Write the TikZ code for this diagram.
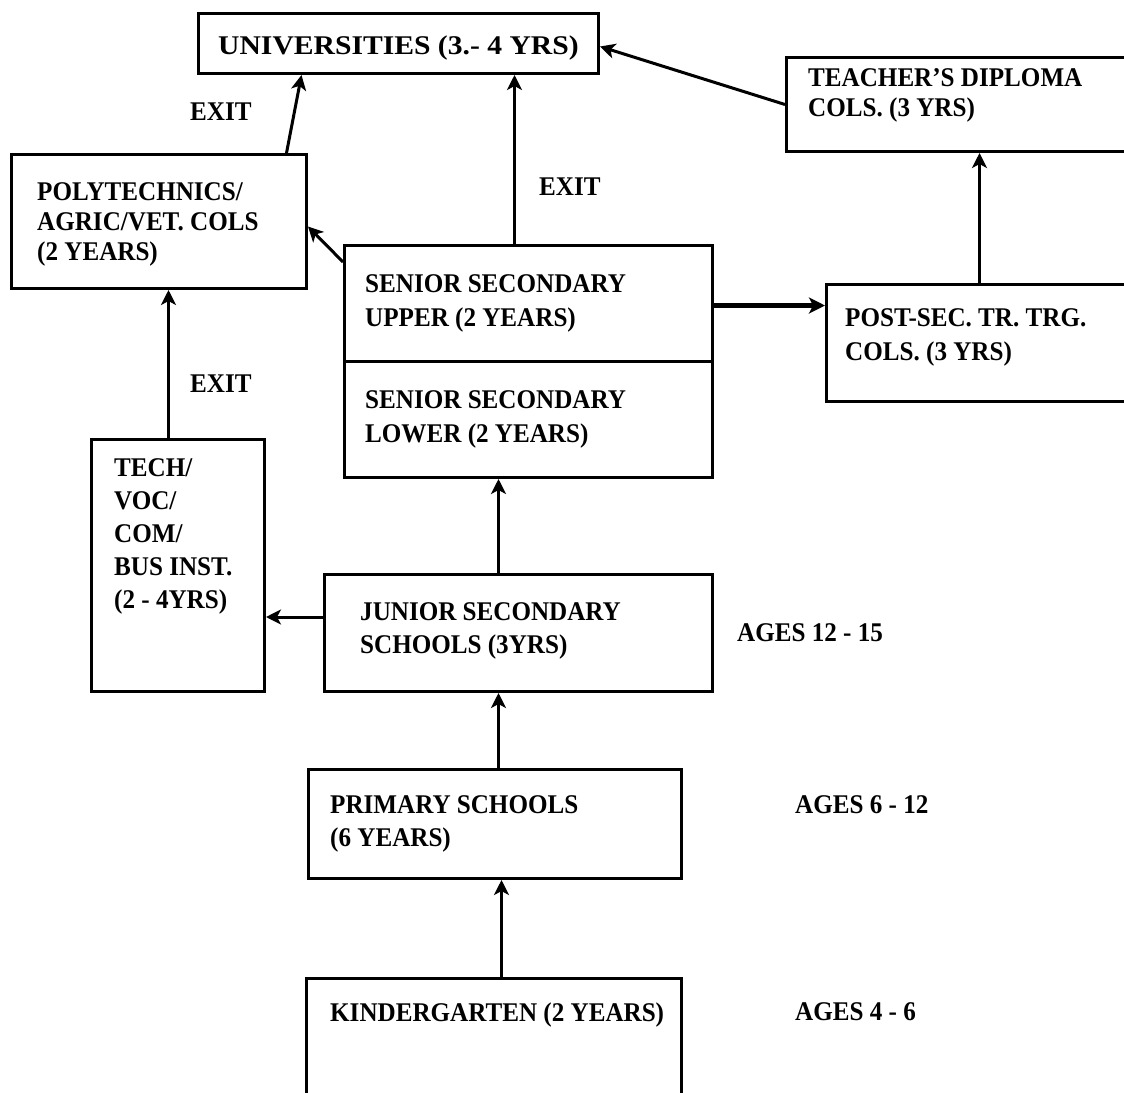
\documentclass[tikz,border=0pt]{standalone}
\usepackage{fontspec}
\usepackage{graphicx}
\setmainfont[FakeStretch=0.93]{Liberation Serif}
\usetikzlibrary{calc,arrows.meta}
\begin{document}
\begin{tikzpicture}[x=1pt,y=-1pt,
  box/.style={draw,line width=3pt,inner sep=0pt,anchor=north west},
  lbl/.style={anchor=north west,inner sep=0pt,font=\fontsize{27}{33}\selectfont\bfseries,align=left},
  sp30/.style={font=\fontsize{27}{30}\selectfont\bfseries},
  sp34/.style={font=\fontsize{27}{34}\selectfont\bfseries},
  arr/.style={line width=3pt,-{Stealth[length=15pt,width=15pt,inset=4pt]}},
  thickarr/.style={line width=5pt,-{Stealth[length=16pt,width=16pt,inset=4pt]}},
]
\clip (0,0) rectangle (1124,1092);
\fill[white] (0,0) rectangle (1124,1092);

% boxes
\node[box,minimum width=400,minimum height=60]  (uni)  at (197,12)  {};
\node[box,minimum width=350,minimum height=94]  (tea)  at (785,56)  {};
\node[box,minimum width=295,minimum height=134] (pol)  at (10,153)  {};
\node[box,minimum width=368,minimum height=116] (seu)  at (343,244) {};
\node[box,minimum width=368,minimum height=116] (sel)  at (343,360) {};
\node[box,minimum width=310,minimum height=117] (pos)  at (825,283) {};
\node[box,minimum width=173,minimum height=252] (tec)  at (90,438)  {};
\node[box,minimum width=388,minimum height=117] (jun)  at (323,573) {};
\node[box,minimum width=373,minimum height=109] (pri)  at (307,768) {};
\node[box,minimum width=375,minimum height=130] (kin)  at (305,977) {};

% texts in boxes
\node[lbl] (tuni) at (218,35.5)  {\scalebox{1.18}[1]{UNIVERSITIES (3.- 4 YRS)}};
\node[lbl,sp30] (ttea) at (808,68.5)  {TEACHER'S DIPLOMA\\COLS. (3 YRS)};
\node[lbl,sp30] (tpol) at (37,182.5)  {POLYTECHNICS/\\AGRIC/VET. COLS\\(2 YEARS)};
\node[lbl,sp34] (tseu) at (365,274.5) {SENIOR SECONDARY\\UPPER (2 YEARS)};
\node[lbl,sp34] (tsel) at (365,390.5) {SENIOR SECONDARY\\LOWER (2 YEARS)};
\node[lbl,sp34] (tpos) at (845,308.5) {POST-SEC. TR. TRG.\\COLS. (3 YRS)};
\node[lbl] (ttec) at (114,458.5) {TECH/\\VOC/\\COM/\\BUS INST.\\(2 - 4YRS)};
\node[lbl] (tjun) at (360,602.5) {JUNIOR SECONDARY\\SCHOOLS (3YRS)};
\node[lbl] (tpri) at (330,795.5) {PRIMARY SCHOOLS\\(6 YEARS)};
\node[lbl] (tkin) at (330,1002.5) {KINDERGARTEN (2 YEARS)};

% free labels
\node[lbl] (exit1) at (190,102.5) {EXIT};
\node[lbl] (exit2) at (539,177.5) {EXIT};
\node[lbl] (exit3) at (190,374.5) {EXIT};
\node[lbl] (age1) at (737,623.5) {AGES 12 - 15};
\node[lbl] (age2) at (795,795.5) {AGES 6 - 12};
\node[lbl] (age3) at (795,1002.5) {AGES 4 - 6};

% connectors
\coordinate (kn) at ([xshift=7.5pt]kin.north);
\draw[arr] (kn) -- (kn |- pri.south);
\draw[arr] ([xshift=3.5pt]pri.north) -- ([xshift=-20pt]jun.south);
\draw[arr] ([xshift=-20pt]jun.north) -- ([xshift=-30pt]sel.south);
\coordinate (jw) at ([yshift=16pt]jun.west);
\draw[arr] (jw) -- (jw -| tec.east);
\coordinate (tn) at ([xshift=-9.5pt]tec.north);
\draw[arr] (tn) -- (tn |- pol.south);
\draw[arr] ([yshift=-18pt]seu.north west) -- ([yshift=-5pt]pol.east);
\coordinate (sn) at ([xshift=-14pt]seu.north);
\draw[arr] (sn) -- (sn |- uni.south);
\draw[arr] ([xshift=127.5pt]pol.north) -- ([xshift=-97pt]uni.south);
\coordinate (se) at ([yshift=-2pt]seu.east);
\draw[thickarr] (se) -- (se -| pos.west);
\coordinate (pn) at ([xshift=-2pt]pos.north);
\draw[arr] (pn) -- (pn |- tea.south);
\draw[arr] (tea.west) -- ([yshift=-3pt]uni.east);
\end{tikzpicture}
\end{document}
